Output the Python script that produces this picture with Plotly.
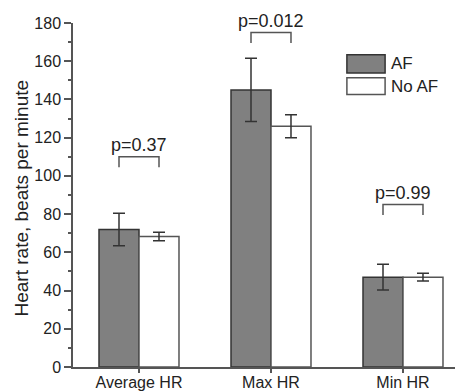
import plotly.graph_objects as go

categories = ["Average HR", "Max HR", "Min HR"]
af_mean = [72, 145, 47]
af_err = [8.5, 16.5, 6.7]
noaf_mean = [68.3, 126, 47]
noaf_err = [2.2, 6, 2]
p_labels = ["p=0.37", "p=0.012", "p=0.99"]
bracket_y = [110, 175, 85]
y_ticks = [0, 20, 40, 60, 80, 100, 120, 140, 160, 180]
y_title = "Heart rate, beats per minute"
Y_MAX = 180

FONT = "Liberation Sans, Arial, sans-serif"
TXT = "#222222"
LINE = "#555555"

fig = go.Figure()
fig.add_trace(go.Bar(
    x=categories, y=af_mean, name="AF",
    marker=dict(color="#808080", line=dict(color="#333333", width=1.5)),
    error_y=dict(type="data", array=af_err, color="#333333", thickness=1.5, width=6),
))
fig.add_trace(go.Bar(
    x=categories, y=noaf_mean, name="No AF",
    marker=dict(color="#ffffff", line=dict(color="#555555", width=1.5)),
    error_y=dict(type="data", array=noaf_err, color="#333333", thickness=1.5, width=6),
))

half = 0.1515
leg = 5.5
for i, (by, lab) in enumerate(zip(bracket_y, p_labels)):
    fig.add_shape(type="path", xref="x", yref="y",
                  path=f"M {i-half},{by-leg} L {i-half},{by} L {i+half},{by} L {i+half},{by-leg}",
                  line=dict(color=LINE, width=1.5))
    fig.add_annotation(x=i, y=(by + 6) / Y_MAX, xref="x", yref="paper", text=lab, showarrow=False,
                       font=dict(family=FONT, size=18, color=TXT), yanchor="middle")

# legend drawn manually
legend_items = [("AF", "#808080", "#333333"), ("No AF", "#ffffff", "#555555")]
ly = [(0.908, 0.855), (0.841, 0.792)]
for (name, fill, edge), (y1, y0) in zip(legend_items, ly):
    fig.add_shape(type="rect", xref="paper", yref="paper", x0=0.717, x1=0.817, y0=y0, y1=y1,
                  fillcolor=fill, line=dict(color=edge, width=1.5))
    fig.add_annotation(xref="paper", yref="paper", x=0.828, y=(y0 + y1) / 2, text=name,
                       showarrow=False, xanchor="left", yanchor="middle",
                       font=dict(family=FONT, size=17, color=TXT))

# y-axis title as rotated annotation
fig.add_annotation(xref="paper", yref="paper", x=-0.136, y=0.49, text=y_title, textangle=-90,
                   showarrow=False, xanchor="center", yanchor="middle",
                   font=dict(family=FONT, size=19, color=TXT))

fig.update_layout(
    width=457, height=391,
    margin=dict(l=73, r=2, t=23, b=24),
    paper_bgcolor="white", plot_bgcolor="white",
    barmode="group", bargap=0.394, bargroupgap=0,
    showlegend=False,
    font=dict(family=FONT, size=16, color=TXT),
)
fig.update_xaxes(
    range=[-0.5, 2.394], showline=True, linecolor=LINE, linewidth=1.5,
    ticks="outside", ticklen=4, tickcolor=LINE, tickwidth=1.5, ticklabelstandoff=-4,
    tickfont=dict(family=FONT, size=16, color=TXT), showgrid=False, zeroline=False,
    automargin=False,
)
fig.update_yaxes(
    range=[0, Y_MAX], tickvals=y_ticks, showline=True, linecolor=LINE, linewidth=1.5,
    ticks="outside", ticklen=7, tickcolor=LINE, tickwidth=1.5,
    minor=dict(dtick=10, ticks="outside", ticklen=3, tickcolor=LINE, tickwidth=1.5, showgrid=False),
    tickfont=dict(family=FONT, size=16, color=TXT), showgrid=False, zeroline=False,
    automargin=False,
)

fig.write_html("out.html", config={"displayModeBar": False},
               post_script="document.body.style.margin='0';document.body.style.overflow='hidden';")
